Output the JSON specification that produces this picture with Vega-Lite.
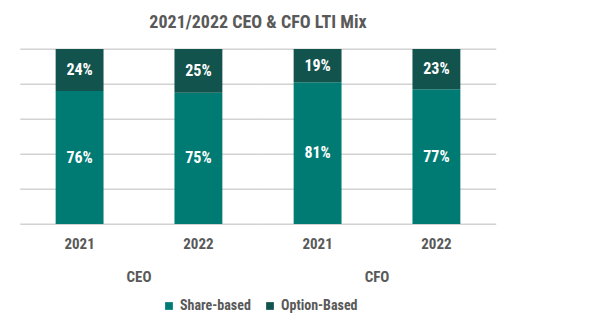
{
  "$schema": "https://vega.github.io/schema/vega-lite/v6.json",
  "padding": {"left": 20, "top": 14, "right": 10, "bottom": 5},
  "title": {"text": "2021/2022 CEO & CFO LTI Mix", "fontSize": 18, "fontWeight": "bold", "color": "#595959", "anchor": "middle", "offset": 17},
  "data": {"values": [
    {"role": "CEO", "year": "2021", "type": "Share-based", "share": 0.76},
    {"role": "CEO", "year": "2021", "type": "Option-Based", "share": 0.24},
    {"role": "CEO", "year": "2022", "type": "Share-based", "share": 0.75},
    {"role": "CEO", "year": "2022", "type": "Option-Based", "share": 0.25},
    {"role": "CFO", "year": "2021", "type": "Share-based", "share": 0.81},
    {"role": "CFO", "year": "2021", "type": "Option-Based", "share": 0.19},
    {"role": "CFO", "year": "2022", "type": "Share-based", "share": 0.77},
    {"role": "CFO", "year": "2022", "type": "Option-Based", "share": 0.23}
  ]},
  "transform": [
    {"stack": "share", "groupby": ["role", "year"], "sort": [{"field": "type", "order": "descending"}], "as": ["lo", "hi"]}
  ],
  "facet": {"column": {"field": "role", "type": "nominal", "title": null, "header": {"labelOrient": "bottom", "labelFontSize": 15, "labelFontWeight": "bold", "labelColor": "#595959", "labelPadding": 19}}},
  "spacing": 0,
  "spec": {
    "width": 238,
    "height": 175,
    "layer": [
      {
        "mark": {"type": "bar"},
        "encoding": {
          "x": {"field": "year", "type": "ordinal", "title": null, "scale": {"paddingInner": 0.597, "paddingOuter": 0.3},
            "axis": {"labelAngle": 0, "ticks": false, "domain": false, "labelPadding": 12, "labelFontSize": 15, "labelFontWeight": "bold", "labelColor": "#595959"}},
          "y": {"field": "lo", "type": "quantitative", "title": null, "scale": {"domain": [0, 1]},
            "axis": {"labels": false, "ticks": false, "domain": false, "grid": true, "tickCount": 10, "values": [0, 0.1, 0.2, 0.3, 0.4, 0.5, 0.6, 0.7, 0.8, 0.9, 1]}},
          "y2": {"field": "hi"},
          "color": {"field": "type", "type": "nominal", "title": null,
            "scale": {"domain": ["Share-based", "Option-Based"], "range": ["#007B73", "#13534D"]},
            "legend": {"orient": "none", "legendX": 142, "legendY": 250, "direction": "horizontal", "symbolType": "square", "symbolSize": 60, "labelFontSize": 14, "labelFontWeight": "bold", "labelColor": "#595959", "columnPadding": 12}}
        }
      },
      {
        "transform": [{"fold": ["lo", "hi"], "as": ["edge", "pos"]}],
        "mark": {"type": "text", "color": "white", "fontSize": 16, "fontWeight": "bold", "baseline": "middle"},
        "encoding": {
          "x": {"field": "year", "type": "ordinal"},
          "y": {"aggregate": "mean", "field": "pos", "type": "quantitative"},
          "detail": {"field": "type"},
          "text": {"field": "share", "type": "quantitative", "format": ".0%"}
        }
      }
    ]
  },
  "config": {
    "font": "Roboto Condensed, Liberation Sans Narrow, DejaVu Sans Condensed, Roboto, sans-serif",
    "view": {"stroke": null},
    "background": "white",
    "axisY": {"tickCount": 10, "gridColor": "#d2d2d2", "gridWidth": 1.4, "translate": 0.25}
  }
}
